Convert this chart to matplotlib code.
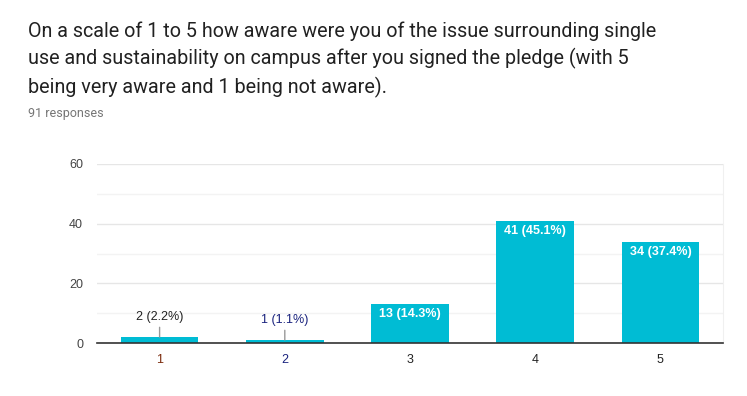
import matplotlib
matplotlib.use('Agg')
import matplotlib.pyplot as plt

# datos de la encuesta
categorias = ['1', '2', '3', '4', '5']
respuestas = [2, 1, 13, 41, 34]
porcentajes = [2.2, 1.1, 14.3, 45.1, 37.4]
total = 91

titulo = ("On a scale of 1 to 5 how aware were you of the issue surrounding single\n"
          "use and sustainability on campus after you signed the pledge (with 5\n"
          "being very aware and 1 being not aware).")

color_barra = '#00bcd4'
colores_tick = ['#7b2a0c', '#1a237e', '#222222', '#222222', '#222222']
colores_etiqueta = ['#222222', '#1a237e']

fig = plt.figure(figsize=(7.47, 3.96), dpi=100)
fig.set_facecolor('white')

fig.text(28 / 747, 1 - 21 / 396, titulo, fontsize=14.2, family='Roboto',
         color='#212121', va='top', ha='left', linespacing=1.48)
fig.text(28 / 747, 1 - 114 / 396, f'{total} responses', fontsize=9, family='Roboto',
         color='#757575', va='center', ha='left')

ax = fig.add_axes([97 / 747, 53 / 396, (723 - 97) / 747, (343 - 164) / 396])
x = list(range(1, len(categorias) + 1))
ax.bar(x, respuestas, width=0.62, color=color_barra, zorder=3)

ax.set_xlim(0.5, 5.5)
ax.set_ylim(0, 60)
ax.set_yticks([0, 20, 40, 60])
ax.set_yticks([10, 30, 50], minor=True)
ax.grid(axis='y', which='major', color='#e6e6e6', linewidth=1, zorder=0)
ax.grid(axis='y', which='minor', color='#f3f3f3', linewidth=1, zorder=0)
ax.tick_params(axis='both', which='both', length=0, labelsize=9, colors='#444444')
ax.tick_params(axis='y', pad=10)
ax.tick_params(axis='x', pad=8)
ax.set_xticks(x)
ax.set_xticklabels(categorias, family='Liberation Sans')
for lbl in ax.get_yticklabels():
    lbl.set_family('Liberation Sans')
for lbl, c in zip(ax.get_xticklabels(), colores_tick):
    lbl.set_color(c)

for s in ['left', 'top']:
    ax.spines[s].set_visible(False)
ax.spines['right'].set_color('#f0f0f0')
ax.spines['bottom'].set_color('#333333')
ax.spines['bottom'].set_linewidth(1.2)
ax.spines['bottom'].set_zorder(4)

# etiquetas de las barras
for i, (xi, v, p) in enumerate(zip(x, respuestas, porcentajes)):
    texto = f'{v} ({p}%)'
    if v >= 5:
        ax.annotate(texto, (xi, v), xytext=(0, -3), textcoords='offset points',
                    ha='center', va='top', fontsize=9, color='white',
                    family='Liberation Sans', fontweight='bold', zorder=5)
    else:
        ax.annotate(texto, (xi, v), xytext=(0, 10), textcoords='offset points',
                    ha='center', va='bottom', fontsize=9, color=colores_etiqueta[i],
                    family='Liberation Sans', zorder=5,
                    arrowprops=dict(arrowstyle='-', color='#999999', lw=1,
                                    shrinkA=1, shrinkB=0))

plt.savefig('out.png', dpi=100, facecolor=fig.get_facecolor())
